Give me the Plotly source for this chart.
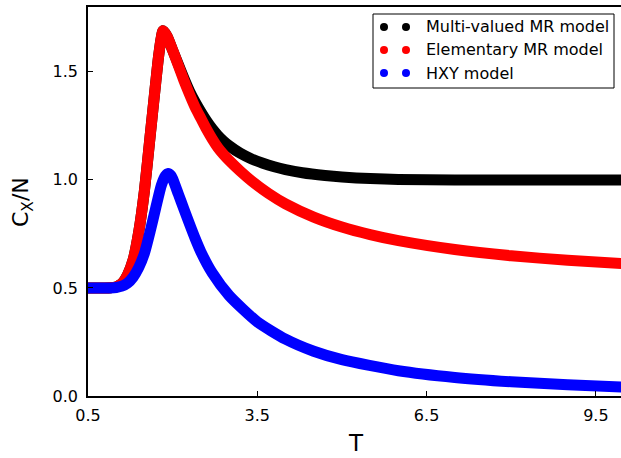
import plotly.graph_objects as go

# Multi-valued MR model (black)
T_black = [0.5, 0.8, 0.9, 1.0, 1.1, 1.2, 1.3, 1.4, 1.5, 1.6, 1.7, 1.75, 1.8, 1.83, 1.9, 2.0,
           2.1, 2.2, 2.3, 2.4, 2.5, 2.6, 2.7, 2.8, 2.9, 3.0, 3.2, 3.4, 3.6, 3.8, 4.0, 4.3, 4.7,
           5.0, 5.5, 6.0, 7.0, 8.0, 9.0, 9.95]
C_black = [0.5, 0.5, 0.501, 0.505, 0.52, 0.56, 0.63, 0.76, 0.95, 1.2, 1.45, 1.57, 1.66, 1.69, 1.665, 1.60,
           1.535, 1.47, 1.41, 1.36, 1.315, 1.273, 1.237, 1.206, 1.18, 1.158, 1.123, 1.097, 1.077, 1.061, 1.048, 1.033, 1.02,
           1.013, 1.006, 1.002, 1.0, 1.0, 1.0, 1.0]

# Elementary MR model (red)
T_red = [0.5, 0.8, 0.9, 1.0, 1.1, 1.2, 1.3, 1.4, 1.5, 1.6, 1.7, 1.75, 1.8, 1.83, 1.9, 2.0,
         2.1, 2.2, 2.3, 2.4, 2.5, 2.6, 2.7, 2.8, 2.9, 3.0, 3.2, 3.4, 3.7, 4.0, 4.5,
         5.0, 5.5, 6.0, 7.0, 8.0, 9.0, 9.95]
C_red = [0.5, 0.5, 0.501, 0.505, 0.52, 0.56, 0.63, 0.76, 0.95, 1.2, 1.45, 1.57, 1.66, 1.69, 1.665, 1.60,
         1.53, 1.46, 1.395, 1.335, 1.285, 1.235, 1.19, 1.15, 1.118, 1.09, 1.04, 0.995, 0.937, 0.889, 0.828,
         0.782, 0.747, 0.719, 0.678, 0.649, 0.628, 0.613]

# HXY model (blue)
T_blue = [0.5, 0.8, 0.9, 1.0, 1.1, 1.2, 1.3, 1.4, 1.5, 1.6, 1.7, 1.8, 1.87, 1.92, 1.97, 2.0,
          2.1, 2.2, 2.3, 2.4, 2.5, 2.7, 3.0, 3.5, 4.0, 4.5, 5.0, 6.0, 7.0, 8.0, 9.0, 9.95]
C_blue = [0.5, 0.5, 0.5, 0.502, 0.508, 0.522, 0.55, 0.595, 0.66, 0.76, 0.87, 0.975, 1.018, 1.03, 1.02, 1.005,
          0.935, 0.865, 0.795, 0.728, 0.667, 0.57, 0.465, 0.343, 0.263, 0.207, 0.168, 0.117, 0.086, 0.066, 0.052, 0.042]

x_ticks = [0.5, 3.5, 6.5, 9.5]
y_ticks = [0.0, 0.5, 1.0, 1.5]

names = ["Multi-valued MR model", "Elementary MR model", "HXY model"]
colors = ["#000000", "#ff0000", "#0000ff"]
xs_all = [T_black, T_red, T_blue]
ys_all = [C_black, C_red, C_blue]

W, H = 621, 458
ML, MR, MT, MB = 88, 0, 7, 62
PW, PH = W - ML - MR, H - MT - MB

def px(x):
    return (x - ML) / PW

def py(y):
    return 1 - (y - MT) / PH

fig = go.Figure()
for name, xs, ys, col in zip(names, xs_all, ys_all, colors):
    fig.add_trace(go.Scatter(x=xs, y=ys, mode="lines", name=name, showlegend=False,
                             line=dict(color=col, width=11, shape="spline", smoothing=0.6)))

# custom legend (matplotlib style, two markers per entry)
shapes = [dict(type="rect", xref="paper", yref="paper",
               x0=px(373), x1=px(614), y0=py(88), y1=py(14),
               line=dict(color="black", width=1), fillcolor="white", layer="above")]
annotations = []
row_y = [27, 50, 73]
for name, col, ry in zip(names, colors, row_y):
    for dx in (384, 406):
        shapes.append(dict(type="circle", xref="paper", yref="paper",
                           xsizemode="pixel", ysizemode="pixel",
                           xanchor=px(dx), yanchor=py(ry),
                           x0=-4, x1=4, y0=-4, y1=4,
                           line=dict(color=col, width=0), fillcolor=col, layer="above"))
    annotations.append(dict(text=name, xref="paper", yref="paper", x=px(424), y=py(ry),
                            xanchor="left", yanchor="middle", showarrow=False,
                            font=dict(size=16, color="black")))

# axis titles
annotations.append(dict(text="T", xref="paper", yref="paper", x=px(356), y=py(457),
                        xanchor="center", yanchor="bottom", showarrow=False, borderpad=0,
                        font=dict(size=23, color="black")))
annotations.append(dict(text="C<sub>X</sub>/N", xref="paper", yref="paper", x=px(23), y=py(202),
                        xanchor="center", yanchor="middle", showarrow=False, textangle=-90,
                        font=dict(size=22, color="black")))

font = "DejaVu Sans, sans-serif"
fig.update_layout(
    width=W, height=H,
    margin=dict(l=ML, r=MR, t=MT, b=MB),
    paper_bgcolor="white", plot_bgcolor="white",
    font=dict(family=font, size=16, color="black"),
    showlegend=False,
    shapes=shapes, annotations=annotations,
    xaxis=dict(range=[0.5, 9.945], tickvals=x_ticks, ticktext=["0.5", "3.5", "6.5", "9.5"],
               showgrid=False, zeroline=False, showline=True, linecolor="black", linewidth=1.5,
               mirror=True, ticks="inside", ticklen=5, tickcolor="black", ticklabelstandoff=4,
               automargin=False, tickfont=dict(size=16)),
    yaxis=dict(range=[0, 1.8], tickvals=y_ticks, ticktext=["0.0", "0.5", "1.0", "1.5"],
               showgrid=False, zeroline=False, showline=True, linecolor="black", linewidth=1.5,
               ticks="inside", ticklen=5, tickcolor="black", ticklabelstandoff=5,
               automargin=False, tickfont=dict(size=16)),
)

fig.write_html("out.html")
